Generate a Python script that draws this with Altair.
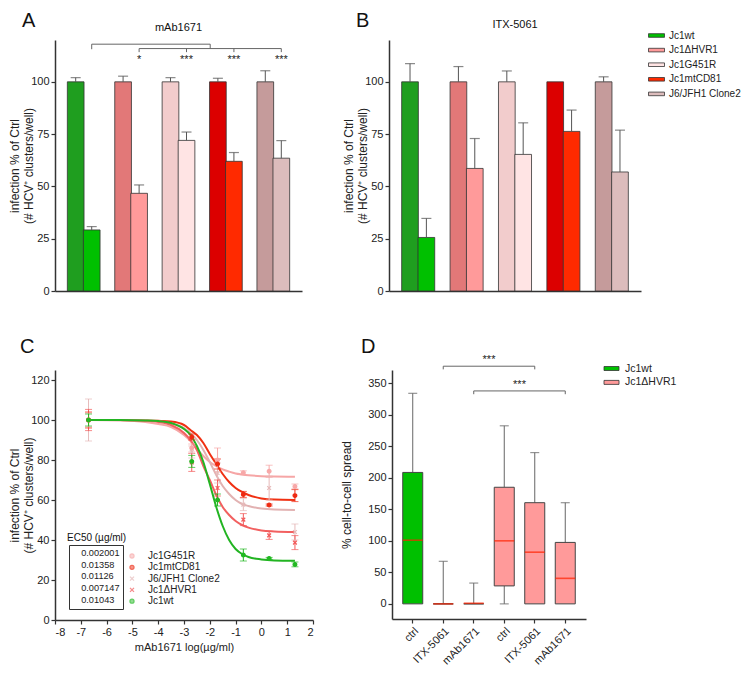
import altair as alt
import pandas as pd

FONT = "Liberation Sans"
AX = "#333333"
TXT = "#222222"

# ---------------- Panels A / B ----------------
strains = ["Jc1wt", "Jc1ΔHVR1", "Jc1G451R", "Jc1mtCD81", "J6/JFH1 Clone2"]
solid_colors = ["#00c000", "#ff9a9a", "#ffe4e4", "#ff2a00", "#dcbcbc"]
hatch_colors = ["#1f9e1f", "#e27878", "#f2cccc", "#dc0000", "#c59b9b"]
group_pos = [0.5, 1.5, 2.5, 3.5, 4.5]
bar_shift = 0.169

a_ctrl = [100, 100, 100, 100, 100]
a_ctrl_top = [102.0, 102.7, 102.0, 101.7, 105.3]
a_trt = [29.2, 46.7, 72.0, 62.0, 63.5]
a_trt_top = [30.8, 50.7, 76.0, 66.2, 71.9]

b_ctrl = [100, 100, 100, 100, 100]
b_ctrl_top = [108.7, 107.3, 105.2, 100.0, 102.4]
b_trt = [25.6, 58.6, 65.3, 76.3, 56.9]
b_trt_top = [34.7, 72.9, 80.4, 86.5, 76.9]

# significance brackets of panel A (segments)
a_br_x1 = [0.669, 0.669, 3.169, 1.669, 1.669, 2.669, 3.669, 4.669]
a_br_x2 = [0.669, 3.169, 3.169, 4.669, 1.669, 2.669, 3.669, 4.669]
a_br_y1 = [115.6, 118.0, 118.0, 115.9, 115.9, 115.9, 115.9, 115.9]
a_br_y2 = [118.0, 118.0, 115.9, 115.9, 114.2, 114.2, 114.2, 114.2]
a_star_x = [1.669, 2.669, 3.669, 4.669]
a_star_y = [109, 109, 109, 109]
a_star_t = ["*", "***", "***", "***"]

Y_TITLE = ["infection % of Ctrl", "(# HCV⁺ clusters/well)"]

RECT_B = "M-1.6,-0.36L1.6,-0.36L1.6,0.36L-1.6,0.36Z"
RECT_D = "M-1.5,-0.4L1.5,-0.4L1.5,0.4L-1.5,0.4Z"


def label(text, x, y, size=20, align="left", baseline="alphabetic"):
    return alt.Chart(pd.DataFrame({"t": [text]})).mark_text(
        font=FONT, fontSize=size, color="#111", align=align, baseline=baseline).encode(
        text="t:N", x=alt.value(x), y=alt.value(y))


def bar_panel(ctrl, ctrl_top, trt, trt_top, title, title_y, letter, show_legend, width, height, with_brackets):
    xs = alt.Scale(domain=[0, 5], nice=False, zero=False)
    ys = alt.Scale(domain=[0, 120], nice=False, zero=True)
    xax = alt.Axis(title=None, labels=False, ticks=False, grid=False)
    yax = alt.Axis(values=[0, 25, 50, 75, 100], title=Y_TITLE, grid=False, titleX=-34)

    def X(f):
        return alt.X(f, type="quantitative", scale=xs, axis=xax)

    def Y(f):
        return alt.Y(f, type="quantitative", scale=ys, axis=yax)

    ctrl_df = pd.DataFrame({"strain": strains,
                            "pos": [g - bar_shift for g in group_pos],
                            "value": ctrl, "top": ctrl_top, "hatch": hatch_colors})
    trt_df = pd.DataFrame({"strain": strains,
                           "pos": [g + bar_shift for g in group_pos],
                           "value": trt, "top": trt_top})
    err_df = pd.concat([ctrl_df[["pos", "value", "top"]], trt_df[["pos", "value", "top"]]])
    err_df = err_df[err_df["top"] > err_df["value"] + 0.05]

    hatch = alt.Chart(ctrl_df).mark_bar(size=16.7, stroke="#333", strokeWidth=0.8).encode(
        x=X("pos"), y=Y("value"), color=alt.Color("hatch:N", scale=None))
    if show_legend:
        leg = alt.Legend(title=None, orient="none", legendX=262, legendY=-10,
                         symbolType=RECT_B, symbolSize=100,
                         symbolStrokeColor="#333", symbolStrokeWidth=0.8,
                         labelFont=FONT, labelFontSize=10, labelColor=TXT,
                         rowPadding=3.6, labelOffset=7)
    else:
        leg = None
    solid = alt.Chart(trt_df).mark_bar(size=16.7, stroke="#333", strokeWidth=0.8).encode(
        x=X("pos"), y=Y("value"),
        fill=alt.Fill("strain:N", scale=alt.Scale(domain=strains, range=solid_colors), legend=leg))
    whisk = alt.Chart(err_df).mark_rule(color="#555", strokeWidth=1).encode(
        x=X("pos"), y=Y("value"), y2="top:Q")
    cap = alt.Chart(err_df).mark_tick(color="#555", size=10, thickness=1.2, orient="horizontal").encode(
        x=X("pos"), y=Y("top"))
    layers = [hatch, solid, whisk, cap]
    if with_brackets:
        br_df = pd.DataFrame({"x1": a_br_x1, "x2": a_br_x2, "y1": a_br_y1, "y2": a_br_y2})
        br = alt.Chart(br_df).mark_rule(color="#666", strokeWidth=1).encode(
            x=X("x1"), x2="x2:Q", y=Y("y1"), y2="y2:Q")
        st_df = pd.DataFrame({"sx": a_star_x, "sy": a_star_y, "st": a_star_t})
        st = alt.Chart(st_df).mark_text(font=FONT, fontSize=11, color=TXT, baseline="alphabetic").encode(
            x=X("sx"), y=Y("sy"), text="st:N")
        layers += [br, st]
    layers.append(label(letter, -33, -13))
    layers.append(label(title, width / 2, title_y, size=11, align="center", baseline="middle"))
    return alt.layer(*layers).properties(width=width, height=height)


A = bar_panel(a_ctrl, a_ctrl_top, a_trt, a_trt_top, "mAb1671", -12, "A", False, 247, 251, True)
B = bar_panel(b_ctrl, b_ctrl_top, b_trt, b_trt_top, "ITX-5061", -15, "B", True, 252, 251, False)

# ---------------- Panel C ----------------
c_strains = ["Jc1G451R", "Jc1mtCD81", "J6/JFH1 Clone2", "Jc1ΔHVR1", "Jc1wt"]
c_point_colors = ["#f7a8a8", "#ee2a12", "#e6baba", "#f25a5a", "#22b822"]
c_line_colors = ["#f6a6a6", "#f03012", "#e2b2b2", "#f26060", "#22b422"]
XSHAPE = "M-1,-1L1,1M-1,1L1,-1"
c_shapes = ["circle", "circle", XSHAPE, XSHAPE, "circle"]
ec50 = ["0.002001", "0.01358", "0.01126", "0.007147", "0.01043"]

dose_x = [-6.7, -2.7, -1.7, -0.7, 0.3, 1.3]
c_mean = {
    "Jc1G451R": [100, 86, 80, 73.6, 74.4, 66.8],
    "Jc1mtCD81": [100, 91.5, 78, 62.8, 57.5, 62.2],
    "J6/JFH1 Clone2": [100, 84, 73.5, 57.7, 66, 44],
    "Jc1ΔHVR1": [100, 78.8, 66, 50.2, 42.3, 38.7],
    "Jc1wt": [100, 79.3, 60, 32.5, 30.8, 27.8],
}
c_sem = {
    "Jc1G451R": [3.5, 2, 6, 1, 3, 1.2],
    "Jc1mtCD81": [4, 1.5, 2.5, 1.5, 0.5, 3],
    "J6/JFH1 Clone2": [10.5, 3, 5, 3, 6, 4],
    "Jc1ΔHVR1": [5.3, 4.5, 4, 3, 2, 3.5],
    "Jc1wt": [3, 3, 3, 3, 0.5, 1.2],
}
curve_x = [-6.7, -5.5, -4.5, -4, -3.5, -3, -2.75, -2.5, -2.25, -2, -1.75, -1.5, -1.25, -1, -0.75, -0.5, 0, 0.5, 1.3]
c_curve = {
    "Jc1G451R": [100, 99.8, 99, 98, 96.5, 92.5, 89.5, 85.5, 82, 79, 77, 75.3, 74.2, 73.3, 72.8, 72.4, 71.9, 71.7, 71.6],
    "Jc1mtCD81": [100, 100, 99.8, 99.6, 99.2, 97.5, 95, 92.5, 88.5, 83, 78, 73, 69, 66, 64, 62.5, 60.8, 60.2, 60],
    "J6/JFH1 Clone2": [100, 100, 99.8, 99.4, 98.3, 96, 93.5, 90, 85, 79, 72.5, 67, 63, 60, 58, 57, 55.7, 55.2, 55],
    "Jc1ΔHVR1": [100, 100, 99.6, 99, 97.5, 93.5, 90, 85, 77, 70, 62.5, 56.5, 52.5, 49.5, 47.5, 46.2, 44.8, 44.3, 44],
    "Jc1wt": [100, 100, 99.8, 99.5, 98.5, 95.5, 92.5, 87, 79, 68, 56.5, 47, 40, 35.5, 33, 31.5, 30.3, 29.8, 29.6],
}

curve_rows, pt_rows = [], []
for i, s in enumerate(c_strains):
    for xv, yv in zip(curve_x, c_curve[s]):
        curve_rows.append({"s": s, "lx": xv, "ly": yv, "lc": c_line_colors[i], "o": i})
    for xv, m, e in zip(dose_x, c_mean[s], c_sem[s]):
        pt_rows.append({"cstrain": s, "px": xv, "py": m, "lo": m - e, "hi": m + e,
                        "pc": c_point_colors[i], "ec50": ec50[i]})
curve_df = pd.DataFrame(curve_rows)
pt_df = pd.DataFrame(pt_rows)

cxs = alt.Scale(domain=[-8, 2], nice=False, zero=False)
cys = alt.Scale(domain=[0, 125], nice=False, zero=True)
cxax = alt.Axis(values=list(range(-8, 3)), title="mAb1671 log(µg/ml)", titleFontSize=11,
                labelExpr="'' + datum.value", grid=False)
cyax = alt.Axis(values=list(range(0, 121, 20)), title=Y_TITLE, grid=False, titleX=-34)


def CX(f):
    return alt.X(f, type="quantitative", scale=cxs, axis=cxax)


def CY(f):
    return alt.Y(f, type="quantitative", scale=cys, axis=cyax)


lines = alt.Chart(curve_df).mark_line(interpolate="monotone", strokeWidth=2).encode(
    x=CX("lx"), y=CY("ly"), color=alt.Color("lc:N", scale=None), detail="s:N", order="o:Q")
ebar = alt.Chart(pt_df).mark_rule(strokeWidth=1).encode(
    x=CX("px"), y=CY("lo"), y2="hi:Q", color=alt.Color("pc:N", scale=None))
ecap_lo = alt.Chart(pt_df).mark_tick(size=7, thickness=1, orient="horizontal").encode(
    x=CX("px"), y=CY("lo"), color=alt.Color("pc:N", scale=None))
ecap_hi = alt.Chart(pt_df).mark_tick(size=7, thickness=1, orient="horizontal").encode(
    x=CX("px"), y=CY("hi"), color=alt.Color("pc:N", scale=None))
leg_c = alt.Legend(title=None, orient="none", legendX=72, legendY=181, labelFont=FONT,
                   labelFontSize=10, labelColor=TXT, symbolSize=16, symbolStrokeWidth=1.3,
                   rowPadding=1.3, labelOffset=11)
leg_ec = alt.Legend(title=None, orient="none", legendX=14, legendY=175, labelFont=FONT,
                    labelFontSize=9.2, labelColor=TXT, symbolSize=1,
                    symbolFillColor="transparent", symbolStrokeColor="transparent", symbolStrokeWidth=0,
                    labelOffset=0, rowPadding=1.9, padding=3, strokeColor="#333", cornerRadius=0)
pts = alt.Chart(pt_df).mark_point(size=14, strokeWidth=1.2).encode(
    x=CX("px"), y=CY("py"),
    fill=alt.Fill("cstrain:N", scale=alt.Scale(domain=c_strains, range=c_point_colors), legend=leg_c),
    stroke=alt.Stroke("cstrain:N", scale=alt.Scale(domain=c_strains, range=c_point_colors), legend=leg_c),
    shape=alt.Shape("cstrain:N", scale=alt.Scale(domain=c_strains, range=c_shapes), legend=leg_c),
    opacity=alt.Opacity("ec50:N", scale=alt.Scale(domain=ec50, range=[1, 1, 1, 1, 1]), legend=leg_ec),
)
ec_title = label("EC50 (µg/ml)", 12, 168, size=10, baseline="middle")
C = alt.layer(lines, ebar, ecap_lo, ecap_hi, pts, ec_title, label("C", -35, -17)).properties(width=258, height=250)

# ---------------- Panel D ----------------
d_cats = ["wt|ctrl", "wt|ITX-5061", "wt|mAb1671", "hvr|ctrl", "hvr|ITX-5061", "hvr|mAb1671"]
d_group = ["Jc1wt", "Jc1wt", "Jc1wt", "Jc1ΔHVR1", "Jc1ΔHVR1", "Jc1ΔHVR1"]
d_groups = ["Jc1wt", "Jc1ΔHVR1"]
d_colors = ["#00c000", "#ff9a9a"]
d_min = [0, 0, 0, 0, 0, 0]
d_q1 = [0, 0, 0, 28.5, 0, 0]
d_med = [101, 0, 1, 100, 82, 40.5]
d_q3 = [208.5, 0, 0, 185, 160.5, 97.5]
d_max = [334, 67.5, 33, 282.5, 240, 160.5]

d_br_cat = ["wt|ITX-5061", "wt|ITX-5061", "hvr|ITX-5061", "hvr|ITX-5061",
            "wt|mAb1671", "wt|mAb1671", "hvr|mAb1671", "hvr|mAb1671"]
d_br_y = [372, 377, 377, 372, 332.6, 337.8, 337.8, 332.6]
d_br_id = [1, 1, 1, 1, 2, 2, 2, 2]
d_star_cat = ["wt|mAb1671", "hvr|ctrl"]
d_star_y = [382, 342]

box_df = pd.DataFrame({"cat": d_cats, "grp": d_group, "lo": d_min, "q1": d_q1,
                       "med": d_med, "q3": d_q3, "hi": d_max})
wl = box_df[box_df["q1"] > box_df["lo"]][["cat", "lo", "q1"]].rename(columns={"lo": "a", "q1": "b"})
wu = box_df[box_df["hi"] > box_df["q3"]][["cat", "q3", "hi"]].rename(columns={"q3": "a", "hi": "b"})
wh_df = pd.concat([wl, wu])
caps_df = pd.concat([
    box_df[["cat", "hi"]].rename(columns={"hi": "c"}),
    box_df[box_df["q1"] > box_df["lo"]][["cat", "lo"]].rename(columns={"lo": "c"}),
])

dxs = alt.Scale(domain=d_cats, paddingInner=0.344, paddingOuter=0.352)
dys = alt.Scale(domain=[-24, 371], nice=False, zero=False)
dxax = alt.Axis(title=None, labelExpr="split(datum.label, '|')[1]", labelAngle=-45,
                labelFontSize=11, grid=False)
dyax = alt.Axis(values=list(range(0, 351, 50)), title="% cell-to-cell spread", grid=False, titleX=-39)


def DX(f):
    return alt.X(f, type="nominal", scale=dxs, axis=dxax, sort=d_cats)


def DY(f):
    return alt.Y(f, type="quantitative", scale=dys, axis=dyax)


whisk_d = alt.Chart(wh_df).mark_rule(color="#666", strokeWidth=1).encode(x=DX("cat"), y=DY("a"), y2="b:Q")
caps_d = alt.Chart(caps_df).mark_tick(color="#666", size=9, thickness=1.2, orient="horizontal").encode(
    x=DX("cat"), y=DY("c"))
leg_d = alt.Legend(title=None, orient="none", legendX=214, legendY=-7,
                   symbolType=RECT_D, symbolSize=100,
                   symbolStrokeColor="#333", symbolStrokeWidth=0.8,
                   labelFont=FONT, labelFontSize=10.5, labelColor=TXT, rowPadding=2.9, labelOffset=8)
boxes = alt.Chart(box_df).mark_bar(stroke="#444", strokeWidth=1).encode(
    x=DX("cat"), y=DY("q1"), y2="q3:Q",
    fill=alt.Fill("grp:N", scale=alt.Scale(domain=d_groups, range=d_colors), legend=leg_d))
meds = alt.Chart(box_df).mark_tick(color="#ff2200", size=20, thickness=1.6, orient="horizontal").encode(
    x=DX("cat"), y=DY("med"))
dbr_df = pd.DataFrame({"cat": d_br_cat, "by": d_br_y, "b": d_br_id, "o": list(range(len(d_br_y)))})
dbr = alt.Chart(dbr_df).mark_line(color="#666", strokeWidth=1).encode(
    x=DX("cat"), y=DY("by"), detail="b:N", order="o:Q")
dst_df = pd.DataFrame({"cat": d_star_cat, "sy": d_star_y, "t": ["***", "***"]})
dst = alt.Chart(dst_df).mark_text(font=FONT, fontSize=11, color=TXT, dx=15.25, baseline="alphabetic").encode(
    x=DX("cat"), y=DY("sy"), text="t:N")
D = alt.layer(whisk_d, caps_d, boxes, meds, dbr, dst, label("D", -31, -17)).properties(width=194, height=249)

ind = dict(fill="independent", stroke="independent", shape="independent",
           opacity="independent", color="independent")
top = alt.hconcat(A, B, spacing=40).resolve_scale(**ind)
bottom = alt.hconcat(C, D, spacing=26).resolve_scale(**ind)
chart = alt.vconcat(top, bottom, spacing=41).resolve_scale(**ind).properties(
    padding={"left": 0, "top": 3, "right": 0, "bottom": 0})
chart = chart.configure(font=FONT).configure_view(stroke=None).configure_axis(
    labelFont=FONT, titleFont=FONT, labelFontSize=11, titleFontSize=12, titleFontWeight="normal",
    labelColor=TXT, titleColor=TXT, domainColor=AX, domainWidth=1.5, tickColor=AX, tickWidth=1.2,
    tickSize=4, labelPadding=2, grid=False)

chart.save("out.html", embed_options={"renderer": "svg", "actions": False})
